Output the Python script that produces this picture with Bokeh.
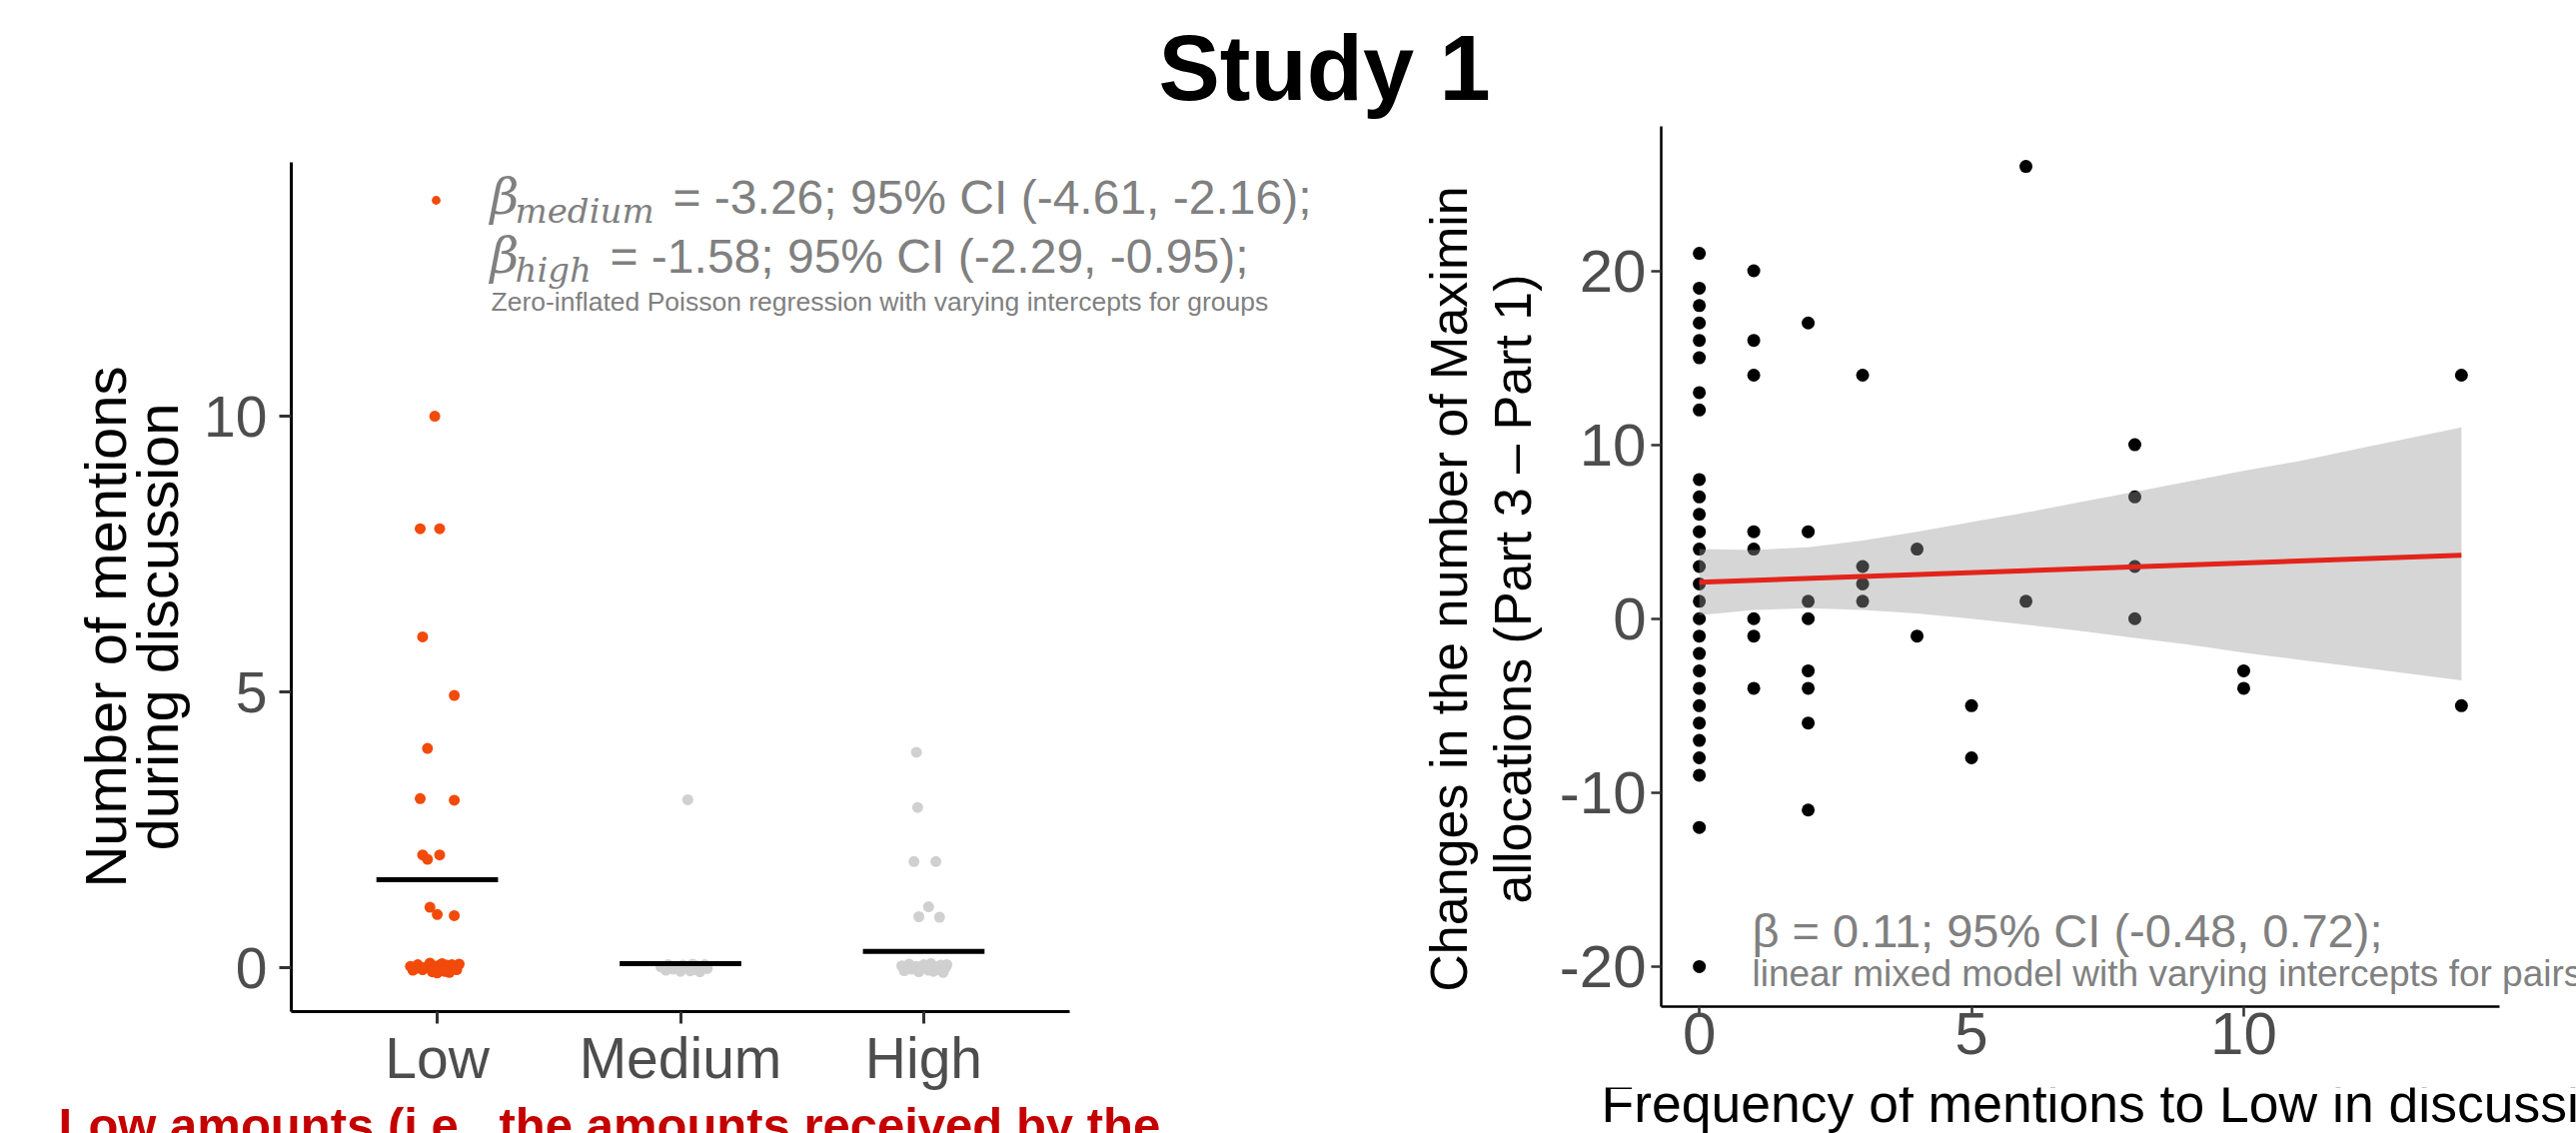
import math
from bokeh.plotting import figure
from bokeh.models import Range1d, FixedTicker, Label, Legend, LegendItem
from bokeh.layouts import column, row
from bokeh.embed import file_html
from bokeh.resources import INLINE

# ---------------- data ----------------
categories = ["Low", "Medium", "High"]
category_pos = [1, 2, 3]

low_mentions = [10.0, 7.96, 7.96, 6.0, 4.94, 3.98, 3.07, 3.04, 2.05, 1.97, 2.05, 1.10, 0.97, 0.95,
                0.03, -0.04, 0.06, -0.03, 0.01, 0.09, -0.07, 0.04, -0.02, 0.08,
                -0.05, 0.05, -0.08, 0.06, 0.00, -0.03, 0.07, -0.06, -0.01, -0.09]
low_jitter = [-0.01, -0.07, 0.01, -0.06, 0.07, -0.04, -0.07, 0.07, -0.06, -0.04, 0.01, -0.03, 0.00, 0.07,
              -0.11, -0.10, -0.08, -0.06, -0.05, -0.03, -0.02, 0.00, 0.01, 0.02,
              0.03, 0.04, 0.05, 0.06, 0.07, 0.08, 0.09, 0.03, -0.09, 0.00]

medium_mentions = [3.05, 0.02, -0.04, 0.06, -0.02, 0.03, -0.06, 0.05, 0.00, -0.05,
                   0.07, -0.03, 0.04, -0.07, 0.01, 0.06, -0.01, 0.03]
medium_jitter = [0.03, -0.08, -0.06, -0.05, -0.03, -0.02, 0.00, 0.01, 0.02, 0.04,
                 0.05, 0.06, 0.07, 0.08, 0.09, 0.10, 0.11, -0.01]

high_mentions = [3.91, 2.91, 1.93, 1.93, 1.11, 0.93, 0.92,
                 0.04, -0.05, 0.07, -0.02, 0.03, -0.07, 0.06, 0.00, -0.04, 0.08,
                 -0.06, 0.02, -0.03, 0.05, -0.08, 0.01, 0.06, -0.01, -0.05]
high_jitter = [-0.03, -0.025, -0.04, 0.05, 0.02, -0.02, 0.065,
               -0.09, -0.08, -0.06, -0.05, -0.03, -0.02, 0.00, 0.01, 0.02, 0.03,
               0.04, 0.05, 0.06, 0.07, 0.08, 0.09, 0.095, -0.04, 0.04]

group_means = [1.6, 0.08, 0.3]

mention_levels = [0, 1, 2, 3, 4, 5, 6, 8, 10, 14]
maximin_changes = [
    [21, 19, 18, 17, 16, 15, 13, 12, 8, 7, 6, 5, 4, 3, 2, 1, 0, -1, -2, -3, -4, -5, -6, -7, -8, -9, -12, -20],
    [20, 16, 14, 5, 4, 0, -1, -4],
    [17, 5, 1, 0, -3, -4, -6, -11],
    [14, 3, 2, 1],
    [4, -1],
    [-5, -8],
    [26, 1],
    [10, 7, 3, 0],
    [-3, -4],
    [14, -5],
]

fit_x = [0, 14]
fit_y = [2.1, 3.64]
band_x = [0, 1, 2, 3, 4, 5, 6, 7, 8, 9, 10, 11, 12, 13, 14]
band_upper = [4.0, 3.95, 4.1, 4.5, 5.0, 5.55, 6.1, 6.7, 7.3, 7.9, 8.5, 9.05, 9.7, 10.35, 11.0]
band_lower = [0.2, 0.5, 0.6, 0.5, 0.3, 0.0, -0.35, -0.7, -1.1, -1.5, -1.95, -2.35, -2.75, -3.15, -3.55]

left_ticks = [0, 5, 10]
right_yticks = [-20, -10, 0, 10, 20]
right_ytick_labels = ["-20", "-10", "0", "10", "20"]
right_xticks = [0, 5, 10]

# ---------------- styles / geometry (page pixels, origin at page top-left) ----------------
FONT = "Liberation Sans"
ORANGE = "#F24A0A"
LIGHT = "#D0D0D0"
TEXT_GRAY = "#808080"
TICK_GRAY = "#4D4D4D"

PAGE_W, PAGE_H = 2578, 1134
TOP = 122            # bottom of the title strip
SPLIT = 1400         # boundary between left and right blocks
YT1_W = 200          # left y-title strip (x 0..200)
YT2_W = 156          # right y-title strip (x 1400..1556)
P1_BOTTOM = 1098     # bottom of left panel canvas
P2_BOTTOM = 1088     # bottom of right panel canvas

L_LEFT, L_AXIS_RIGHT, L_TOP, L_BOTTOM = 291, 1070, 162, 1012
R_LEFT, R_AXIS_RIGHT, R_TOP, R_BOTTOM = 1662, 2501, 126, 1007
L_AXIS_X = (0.4, 3.6)
L_Y = (-0.79, 14.6)
R_AXIS_X = (-0.7, 14.7)
R_Y = (-22.3, 28.3)

l_scale = (L_AXIS_RIGHT - L_LEFT) / (L_AXIS_X[1] - L_AXIS_X[0])
L_X = (L_AXIS_X[0], L_AXIS_X[0] + (SPLIT - L_LEFT) / l_scale)
r_scale = (R_AXIS_RIGHT - R_LEFT) / (R_AXIS_X[1] - R_AXIS_X[0])
R_X = (R_AXIS_X[0], R_AXIS_X[0] + (PAGE_W - R_LEFT) / r_scale)

MID = 0.35   # distance (in em) from the alphabetic baseline up to the text middle


def conv_left():
    return (lambda px: L_X[0] + (px - L_LEFT) / l_scale,
            lambda py: L_Y[1] - (py - L_TOP) / (L_BOTTOM - L_TOP) * (L_Y[1] - L_Y[0]))


def conv_right():
    return (lambda px: R_X[0] + (px - R_LEFT) / r_scale,
            lambda py: R_Y[1] - (py - R_TOP) / (R_BOTTOM - R_TOP) * (R_Y[1] - R_Y[0]))


def conv_strip(left, bottom):
    return (lambda px: px - left, lambda py: bottom - py)


def style(p, tick_size, line_w, y_standoff, x_standoff, tick_len):
    p.xgrid.visible = False
    p.ygrid.visible = False
    p.outline_line_color = None
    for ax in p.axis:
        ax.axis_line_color = "black"
        ax.axis_line_width = line_w
        ax.major_tick_line_color = "#333333"
        ax.major_tick_line_width = line_w
        ax.major_tick_out = tick_len
        ax.major_tick_in = 0
        ax.minor_tick_line_color = None
        ax.major_label_text_font = FONT
        ax.major_label_text_font_size = tick_size
        ax.major_label_text_color = TICK_GRAY
    p.yaxis.major_label_standoff = y_standoff
    p.xaxis.major_label_standoff = x_standoff


def add_text(p, conv, page_x, page_base, text, size, color="black", font=FONT,
             style_="normal", align="left", vertical=False):
    """page_x/page_base: for horizontal text the left(or centre) x and the baseline y;
    for vertical (bottom-to-top) text the baseline x and the centre y."""
    cx, cy = conv
    if vertical:
        x, y, ang = page_x - MID * size, page_base, math.pi / 2
    else:
        x, y, ang = page_x, page_base - MID * size, 0.0
    p.add_layout(Label(x=cx(x), y=cy(y), text=text, text_font=font,
                       text_font_size=f"{size}px", text_font_style=style_,
                       text_color=color, text_align=align, text_baseline="middle",
                       angle=ang))


def strip(w, h):
    s = figure(frame_width=w, frame_height=h, min_border=0,
               x_range=Range1d(0, w), y_range=Range1d(0, h),
               x_axis_type=None, y_axis_type=None, title_location=None,
               output_backend="svg", toolbar_location=None)
    s.outline_line_color = None
    s.xgrid.visible = False
    s.ygrid.visible = False
    return s


# ---------------- title strip ----------------
pt = strip(PAGE_W, TOP)
add_text(pt, conv_strip(0, TOP), 1159, 100, "Study 1", 92, style_="bold")

# ---------------- left panel ----------------
p1 = figure(frame_width=SPLIT - L_LEFT, frame_height=L_BOTTOM - L_TOP,
            min_border_left=L_LEFT - YT1_W, min_border_right=0,
            min_border_top=L_TOP - TOP, min_border_bottom=P1_BOTTOM - L_BOTTOM,
            x_range=Range1d(*L_X), y_range=Range1d(*L_Y), title_location=None,
            output_backend="svg", toolbar_location=None)
style(p1, "57px", 3, 12, 2, 12)
p1.xaxis.ticker = FixedTicker(ticks=category_pos)
p1.xaxis.major_label_overrides = {c: n for c, n in zip(category_pos, categories)}
p1.xaxis.bounds = L_AXIS_X
p1.yaxis.ticker = FixedTicker(ticks=left_ticks)

r_low = p1.scatter([category_pos[0] + j for j in low_jitter], low_mentions,
                   size=11, fill_color=ORANGE, line_color=None)
p1.scatter([category_pos[1] + j for j in medium_jitter], medium_mentions,
           size=11, fill_color=LIGHT, line_color=None)
p1.scatter([category_pos[2] + j for j in high_jitter], high_mentions,
           size=11, fill_color=LIGHT, line_color=None)
p1.segment(x0=[c - 0.25 for c in category_pos], y0=group_means,
           x1=[c + 0.25 for c in category_pos], y1=group_means,
           line_color="black", line_width=5)

legend = Legend(items=[LegendItem(label=" ", renderers=[r_low])],
                location=(436 - 11 - L_LEFT, L_BOTTOM - 200 - 11),
                glyph_width=22, glyph_height=22, label_height=22, label_width=1,
                label_standoff=0, padding=0, margin=0, spacing=0,
                border_line_alpha=0, background_fill_alpha=0,
                label_text_font_size="8px")
p1.add_layout(legend)

cl = conv_left()
add_text(p1, cl, 490, 214, "β", 50, TEXT_GRAY, "DejaVu Serif", "italic")
add_text(p1, cl, 515, 222, "medium", 34, TEXT_GRAY, "DejaVu Serif", "italic")
add_text(p1, cl, 673, 214, "= -3.26; 95% CI (-4.61, -2.16);", 48, TEXT_GRAY)
add_text(p1, cl, 490, 273, "β", 50, TEXT_GRAY, "DejaVu Serif", "italic")
add_text(p1, cl, 515, 281, "high", 34, TEXT_GRAY, "DejaVu Serif", "italic")
add_text(p1, cl, 610, 273, "= -1.58; 95% CI (-2.29, -0.95);", 48, TEXT_GRAY)
add_text(p1, cl, 491, 311,
         "Zero-inflated Poisson regression with varying intercepts for groups", 26.5, TEXT_GRAY)

# left y title strip
yt1 = strip(YT1_W, P1_BOTTOM - TOP)
c_yt1 = conv_strip(0, P1_BOTTOM)
add_text(yt1, c_yt1, 125, 587, "Number of mentions", 58, align="center", vertical=True)
add_text(yt1, c_yt1, 177, 587, "during discussion", 58, align="center", vertical=True)

# red caption strip (cut by the page bottom as in the reference)
cap1 = strip(SPLIT, PAGE_H - P1_BOTTOM)
add_text(cap1, conv_strip(0, PAGE_H), 58, 1143,
         "Low amounts (i.e., the amounts received by the", 49, "#C40000", style_="bold")

# ---------------- right panel ----------------
P2_LEFT = SPLIT + YT2_W
p2 = figure(frame_width=PAGE_W - R_LEFT, frame_height=R_BOTTOM - R_TOP,
            min_border_left=R_LEFT - P2_LEFT, min_border_right=0,
            min_border_top=R_TOP - TOP, min_border_bottom=P2_BOTTOM - R_BOTTOM,
            x_range=Range1d(*R_X), y_range=Range1d(*R_Y), title_location=None,
            output_backend="svg", toolbar_location=None)
style(p2, "60px", 2.5, 5, -4, 10)
p2.xaxis.ticker = FixedTicker(ticks=right_xticks)
p2.xaxis.bounds = R_AXIS_X
p2.yaxis.ticker = FixedTicker(ticks=right_yticks)
p2.yaxis.major_label_overrides = {t: s for t, s in zip(right_yticks, right_ytick_labels)}

px_all, py_all = [], []
for lev, vals in zip(mention_levels, maximin_changes):
    for v in vals:
        px_all.append(lev)
        py_all.append(v)
p2.scatter(px_all, py_all, size=13, fill_color="black", line_color=None)
p2.varea(x=band_x, y1=band_lower, y2=band_upper, fill_color="#999999", fill_alpha=0.4)
p2.line(fit_x, fit_y, line_color="#E3241B", line_width=5)

cr = conv_right()
add_text(p2, cr, 1753, 947, "β = 0.11; 95% CI (-0.48, 0.72);", 47, TEXT_GRAY)
add_text(p2, cr, 1753, 987, "linear mixed model with varying intercepts for pairs", 37, TEXT_GRAY)

# right y title strip
yt2 = strip(YT2_W, P2_BOTTOM - TOP)
c_yt2 = conv_strip(SPLIT, P2_BOTTOM)
add_text(yt2, c_yt2, 1468, 585, "Changes in the number of Maximin", 52, align="center", vertical=True)
add_text(yt2, c_yt2, 1532, 585, "allocations (Part 3 \u2013 Part 1)", 52, align="center", vertical=True)

# right x title strip (cut at the page's right edge as in the reference)
xt2 = strip(PAGE_W - SPLIT, PAGE_H - P2_BOTTOM)
add_text(xt2, conv_strip(SPLIT, PAGE_H), 1602, 1123,
         "Frequency of mentions to Low in discussion", 53.5)

left_block = column(row(yt1, p1, spacing=0), cap1, spacing=0)
right_block = column(row(yt2, p2, spacing=0), xt2, spacing=0)
layout = column(pt, row(left_block, right_block, spacing=0), spacing=0)
open("out.html", "w").write(file_html(layout, INLINE))
